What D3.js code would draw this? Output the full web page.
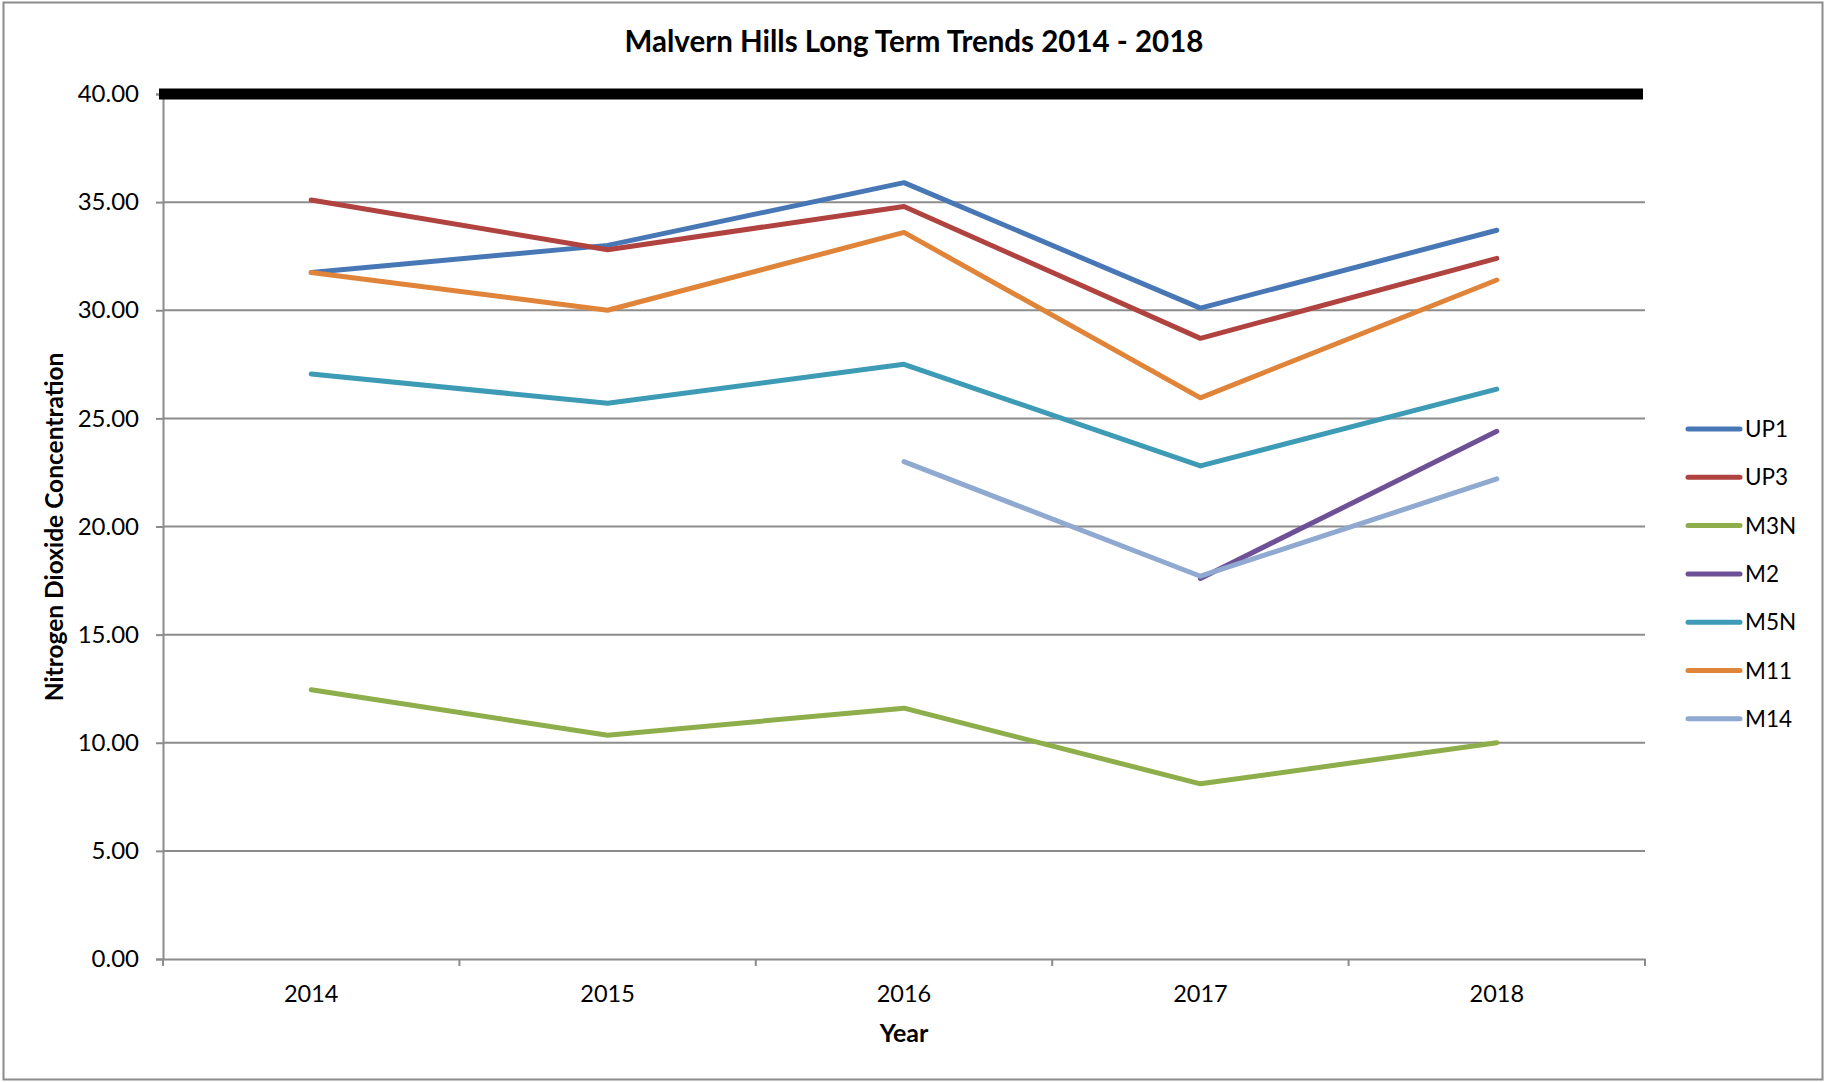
<!DOCTYPE html>
<html>
<head>
<meta charset="utf-8">
<script src="https://cdn.jsdelivr.net/npm/d3@7"></script>
<style>
  body { margin: 0; background: #fff; }
  text { font-family: Lato, "Liberation Sans", sans-serif; fill: #000; }
</style>
</head>
<body>
<script>
const w = 1825;
const h = 1082;

const years = ["2014", "2015", "2016", "2017", "2018"];
const seriesNames = ["UP1", "UP3", "M3N", "M2", "M5N", "M11", "M14"];
const colors = ["#4877B5", "#B04340", "#8DAE4A", "#6E5096", "#3D9BB5", "#E0843A", "#8FA9D1"];
const up1 = [31.75, 33.0, 35.9, 30.1, 33.7];
const up3 = [35.1, 32.8, 34.8, 28.7, 32.4];
const m3n = [12.45, 10.35, 11.6, 8.1, 10.0];
const m2  = [null, null, null, 17.6, 24.4];
const m5n = [27.05, 25.7, 27.5, 22.8, 26.35];
const m11 = [31.75, 30.0, 33.6, 25.95, 31.4];
const m14 = [null, null, 23.0, 17.7, 22.2];
const objective = 40;
const yTicks = [0, 5, 10, 15, 20, 25, 30, 35, 40];

const allSeries = [up1, up3, m3n, m2, m5n, m11, m14];

const plotL = 163, plotR = 1645, plotT = 94, plotB = 959;

const xScale = d3.scaleBand()
                 .domain(years)
                 .range([plotL, plotR]);

const yScale = d3.scaleLinear()
                 .domain([0, 40])
                 .range([plotB, plotT]);

const svg = d3.select("body")
              .append("svg")
              .attr("width", w)
              .attr("height", h);

// outer border
svg.append("rect")
   .attr("x", 3.5).attr("y", 2.5)
   .attr("width", w - 6).attr("height", h - 5)
   .attr("fill", "none")
   .attr("stroke", "#8c8c8c")
   .attr("stroke-width", 2);

// gridlines
svg.append("g")
   .selectAll("line")
   .data(yTicks.filter(d => d > 0 && d < 40))
   .enter()
   .append("line")
   .attr("x1", plotL).attr("x2", plotR)
   .attr("y1", d => yScale(d)).attr("y2", d => yScale(d))
   .attr("stroke", "#8c8c8c")
   .attr("stroke-width", 2);

// y axis
const yAxis = d3.axisLeft(yScale)
                .tickValues(yTicks)
                .tickSize(7)
                .tickFormat(d3.format(".2f"));

const gy = svg.append("g")
   .attr("id", "y-axis")
   .attr("transform", "translate(" + plotL + ",0)")
   .call(yAxis);
gy.select(".domain").attr("stroke", "#8c8c8c").attr("stroke-width", 2);
gy.selectAll(".tick line").attr("stroke", "#8c8c8c").attr("stroke-width", 2);
gy.selectAll(".tick text")
  .attr("x", -24)
  .style("font-size", "24px");

// x axis with ticks between categories
const xAxis = d3.axisBottom(xScale).tickSize(0).tickPadding(26);
const gx = svg.append("g")
   .attr("id", "x-axis")
   .attr("transform", "translate(0," + plotB + ")")
   .call(xAxis);
gx.select(".domain").attr("stroke", "#8c8c8c").attr("stroke-width", 2);
gx.selectAll(".tick text").style("font-size", "23.5px");

const bounds = years.map(d => xScale(d)).concat([plotR]);
gx.selectAll(".sep")
  .data(bounds)
  .enter()
  .append("line")
  .attr("class", "sep")
  .attr("x1", d => d).attr("x2", d => d)
  .attr("y1", 0).attr("y2", 7)
  .attr("stroke", "#8c8c8c")
  .attr("stroke-width", 2);

// objective line at 40
svg.append("line")
   .attr("x1", plotL - 4).attr("x2", plotR - 2)
   .attr("y1", yScale(objective)).attr("y2", yScale(objective))
   .attr("stroke", "#000")
   .attr("stroke-width", 11);

// series lines
const line = d3.line()
               .defined(d => d.v != null)
               .x(d => xScale(d.year) + xScale.bandwidth() / 2)
               .y(d => yScale(d.v));

svg.append("g")
   .selectAll("path")
   .data(allSeries)
   .enter()
   .append("path")
   .attr("d", s => line(s.map((v, i) => ({year: years[i], v: v}))))
   .attr("fill", "none")
   .attr("stroke", (s, i) => colors[i])
   .attr("stroke-width", 5)
   .attr("stroke-linejoin", "round")
   .attr("stroke-linecap", "round");

// title
svg.append("text")
   .attr("x", 914).attr("y", 52)
   .attr("text-anchor", "middle")
   .style("font-size", "29.5px")
   .style("font-weight", "bold")
   .text("Malvern Hills Long Term Trends 2014 - 2018");

// axis titles
svg.append("text")
   .attr("x", (plotL + plotR) / 2).attr("y", 1042)
   .attr("text-anchor", "middle")
   .style("font-size", "25px")
   .style("font-weight", "bold")
   .text("Year");

svg.append("text")
   .attr("transform", "translate(63," + 527 + ") rotate(-90)")
   .attr("text-anchor", "middle")
   .style("font-size", "24.5px")
   .style("font-weight", "bold")
   .text("Nitrogen Dioxide Concentration");

// legend
const legend = svg.append("g")
   .selectAll("g")
   .data(seriesNames)
   .enter()
   .append("g")
   .attr("transform", (d, i) => "translate(1688," + (429 + i * 48.3) + ")");

legend.append("line")
   .attr("x1", 0).attr("x2", 52)
   .attr("stroke", (d, i) => colors[i])
   .attr("stroke-width", 5)
   .attr("stroke-linecap", "round");

legend.append("text")
   .attr("x", 57).attr("y", 8)
   .style("font-size", "22.5px")
   .text(d => d);
</script>
</body>
</html>
